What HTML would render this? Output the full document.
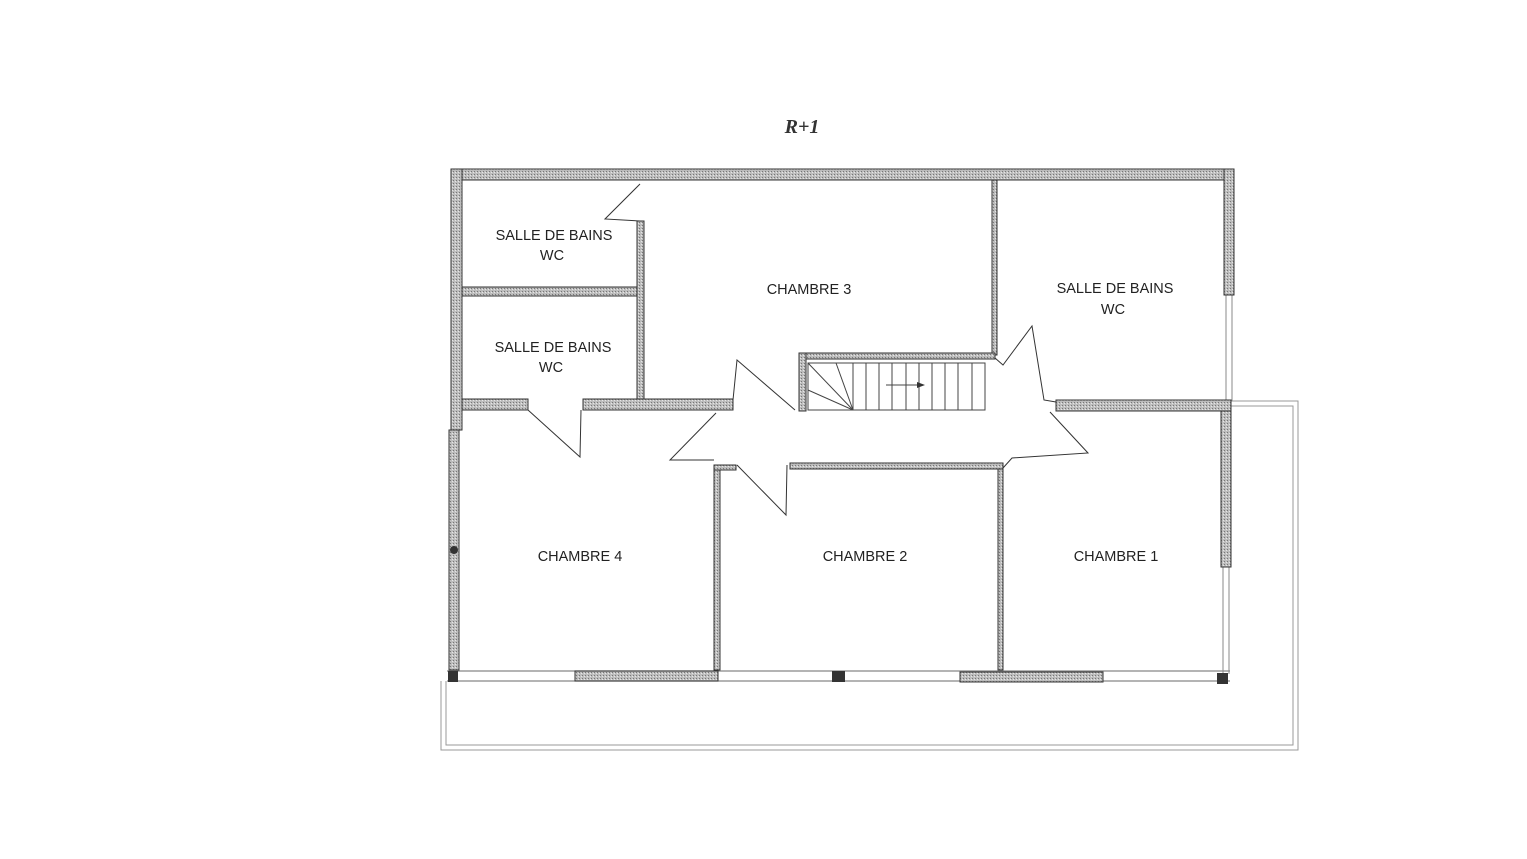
<!DOCTYPE html>
<html><head><meta charset="utf-8"><style>
html,body{margin:0;padding:0;background:#fff;}
svg{display:block;}
text{font-family:"Liberation Sans",sans-serif;font-size:14.5px;fill:#222;text-anchor:middle;}
</style></head><body>
<svg width="1527" height="859" viewBox="0 0 1527 859" xmlns="http://www.w3.org/2000/svg">
<defs>
<pattern id="g" width="3" height="3" patternUnits="userSpaceOnUse">
<rect width="3" height="3" fill="#bdbdbd"/><rect width="1" height="1" fill="#777"/><rect x="2" y="1" width="1" height="1" fill="#e6e6e6"/>
</pattern>
</defs>
<text x="802" y="133" style="font-family:'Liberation Serif',serif;font-style:italic;font-weight:bold;font-size:20px;fill:#333">R+1</text>

<!-- balcony outline -->
<g fill="none" stroke="#999" stroke-width="1">
<polyline points="1231,401 1298,401 1298,750 441,750 441,681"/>
<polyline points="1231,406 1293,406 1293,745 446,745 446,681"/>
</g>
<!-- right thin double lines -->
<g stroke="#888" stroke-width="1">
<line x1="1226" y1="295" x2="1226" y2="401"/><line x1="1232" y1="295" x2="1232" y2="401"/>
<line x1="1223" y1="567" x2="1223" y2="674"/><line x1="1229" y1="567" x2="1229" y2="674"/>
</g>
<!-- bottom double line -->
<g stroke="#888" stroke-width="1.2">
<line x1="447" y1="671" x2="1230" y2="671"/><line x1="447" y1="681" x2="1230" y2="681"/>
</g>

<g fill="url(#g)" stroke="#333" stroke-width="1">
<!-- outer walls -->
<rect x="451" y="169" width="783" height="11"/>
<rect x="451" y="169" width="11" height="261"/>
<rect x="449" y="430" width="10" height="240"/>
<rect x="1224" y="169" width="10" height="126"/>
<rect x="1221" y="410" width="10" height="157"/>
<!-- bathrooms -->
<rect x="637" y="221" width="7" height="180"/>
<rect x="462" y="287" width="175" height="9"/>
<rect x="462" y="399" width="66" height="11"/>
<rect x="583" y="399" width="150" height="11"/>
<!-- chambre 3 / sdb right -->
<rect x="992" y="180" width="5" height="175"/>
<rect x="1056" y="400" width="175" height="11"/>
<!-- stair box walls -->
<rect x="799" y="353" width="196" height="6"/>
<rect x="799" y="353" width="7" height="58"/>
<!-- corridor bottom -->
<rect x="790" y="463" width="213" height="6"/>
<rect x="714" y="465" width="6" height="205"/>
<rect x="714" y="465" width="22" height="5"/>
<rect x="998" y="469" width="5" height="201"/>
<!-- bottom window/wall pieces -->
<rect x="575" y="671" width="143" height="10"/>
<rect x="960" y="672" width="143" height="10"/>
</g>
<g fill="#333">
<rect x="448" y="671" width="10" height="11"/>
<rect x="832" y="671" width="13" height="11"/>
<rect x="1217" y="673" width="11" height="11"/>
<circle cx="454" cy="550" r="4"/>
</g>

<!-- door swings -->
<g fill="none" stroke="#333" stroke-width="1">
<polyline points="528,410 580,457 581,410"/>
<polyline points="640,221 605,219 640,184"/>
<polyline points="733,400 737,360 795,410"/>
<polyline points="716,413 670,460 714,460"/>
<polyline points="737,465 786,515 787,465"/>
<polyline points="995,358 1003,365 1032,326 1044,400 1056,402"/>
<polyline points="1050,412 1088,453 1012,458 1003,468"/>
</g>

<!-- stairs -->
<g fill="none" stroke="#444" stroke-width="1">
<rect x="808" y="363" width="177" height="47"/>
<line x1="808" y1="363" x2="853" y2="410"/>
<line x1="836" y1="363" x2="853" y2="410"/>
<line x1="808" y1="390" x2="853" y2="410"/>
<line x1="853" y1="363" x2="853" y2="410"/>
<line x1="866" y1="363" x2="866" y2="410"/>
<line x1="879" y1="363" x2="879" y2="410"/>
<line x1="892" y1="363" x2="892" y2="410"/>
<line x1="906" y1="363" x2="906" y2="410"/>
<line x1="919" y1="363" x2="919" y2="410"/>
<line x1="932" y1="363" x2="932" y2="410"/>
<line x1="945" y1="363" x2="945" y2="410"/>
<line x1="958" y1="363" x2="958" y2="410"/>
<line x1="972" y1="363" x2="972" y2="410"/>
<line x1="886" y1="385" x2="918" y2="385"/>
</g>
<polygon points="917,382 925,385 917,388" fill="#333"/>

<!-- labels -->
<text x="554" y="240">SALLE DE BAINS</text>
<text x="552" y="260">WC</text>
<text x="553" y="352">SALLE DE BAINS</text>
<text x="551" y="372">WC</text>
<text x="809" y="294">CHAMBRE 3</text>
<text x="1115" y="293">SALLE DE BAINS</text>
<text x="1113" y="314">WC</text>
<text x="580" y="561">CHAMBRE 4</text>
<text x="865" y="561">CHAMBRE 2</text>
<text x="1116" y="561">CHAMBRE 1</text>
</svg>
</body></html>
